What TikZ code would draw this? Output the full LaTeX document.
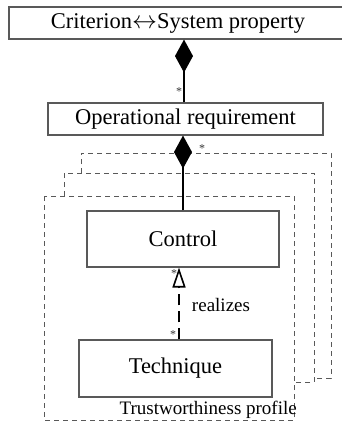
\documentclass[tikz,border=0pt]{standalone}
\usepackage{fontspec}
\setmainfont{Liberation Serif}
\usetikzlibrary{arrows.meta}
\begin{document}
\begin{tikzpicture}[x=1pt,y=-1pt,
  box/.style={draw=black!65,line width=1.1pt,inner sep=0pt,
    font=\fontsize{22.5}{26}\selectfont},
  link/.style={line width=1.6pt,black},
  owns/.style={link,-{Diamond[length=33pt,width=18pt]}},
  realizes/.style={link,dash pattern=on 11pt off 6pt,
    -{Triangle[open,length=20pt,width=13pt,line width=1.6pt]}},
  frame/.style={draw=black!65,line width=1pt,dash pattern=on 5pt off 4pt},
  mult/.style={font=\fontsize{12}{12}\selectfont,text=black!80,inner sep=0pt},
  lbl/.style={font=\fontsize{19}{22}\selectfont,inner sep=0pt}]
\useasboundingbox (0,0) rectangle (342,423);

% stacked trustworthiness profiles (only the visible edges of the back ones)
\draw[frame] (81,173) -- (81,153) -- (331,153) -- (331,378) -- (314,378);
\draw[frame] (64,196) -- (64,173) -- (314,173) -- (314,382) -- (294,382);
\draw[frame] (44,196) rectangle (294,420);

% classes
\node[box,minimum width=338pt,minimum height=32pt] (crit) at (178,23)
  {Criterion{\fontsize{28}{26}\selectfont$\leftrightarrow$}System property};
\node[box,minimum width=275pt,minimum height=32pt] (op) at (185.5,119)
  {Operational requirement};
\node[box,minimum width=192pt,minimum height=56pt] (ctrl) at (183,239) {Control};
\node[box,minimum width=193pt,minimum height=57pt] (tech) at (175.5,368.5) {Technique};

% compositions
\draw[owns] (op.north -| 184,0) -- (crit.south -| 184,0);
\draw[owns] (ctrl.north) -- (ctrl.north |- op.south);

% realization
\coordinate (rx) at (179,0);
\draw[realizes] (tech.north -| rx) -- (ctrl.south -| rx);

% multiplicities
\node[mult] (m1) at (179,92) {*};
\node[mult] (m2) at (202,149) {*};
\node[mult] (m3) at (174,274) {*};
\node[mult] (m4) at (173,335) {*};

% labels
\node[lbl] (rl) at (221,305) {realizes};
\node[lbl,anchor=base east] (tp) at (297,414) {Trustworthiness profile};
\end{tikzpicture}
\end{document}
